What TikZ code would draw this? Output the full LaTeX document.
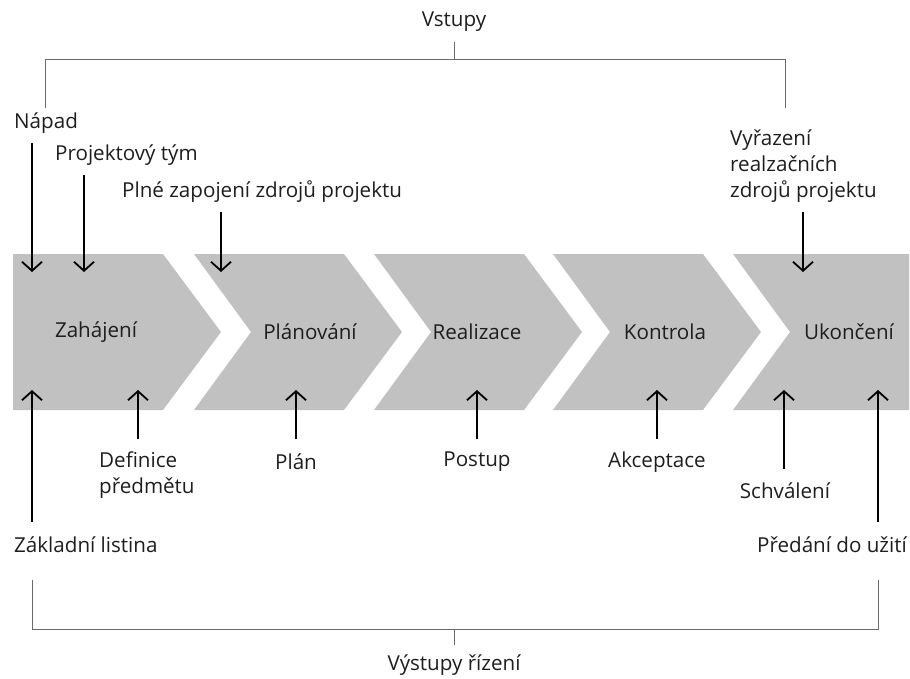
\documentclass[tikz,border=0pt]{standalone}
\usepackage{fontspec}
\setmainfont{Open Sans}
\usetikzlibrary{arrows.meta}
\definecolor{chev}{HTML}{C1C1C1}
\definecolor{txt}{HTML}{1E1E1E}
\definecolor{brk}{HTML}{6A6A6A}
\tikzset{
  lbl/.style={font=\fontsize{20.6}{26}\selectfont, text=txt, inner sep=0pt, align=left},
  arr/.style={line width=2pt, -{Straight Barb[length=9pt,width=20pt,line width=1.8pt]}},
  brack/.style={draw=brk, line width=1pt},
  chevron/.style={fill=chev, draw=none}
}
\begin{document}
\begin{tikzpicture}[x=1pt,y=-1pt]
\useasboundingbox (0,0) rectangle (910,679);
% chevrons
\fill[chevron] (13,254) -- (163,254) -- (221,332) -- (163,410) -- (13,410) -- cycle;
\foreach \L in {194,374,553}{
  \fill[chevron] (\L,254) -- (\L+150,254) -- (\L+208,332) -- (\L+150,410) -- (\L,410) -- (\L+57,332) -- cycle;
}
\fill[chevron] (733,254) -- (909,254) -- (909,410) -- (733,410) -- (790,332) -- cycle;
% phase labels
\node[lbl] (p1) at (96,332) {Zahájení};
\node[lbl] (p2) at (310,332) {Plánování};
\node[lbl] (p3) at (477,332) {Realizace};
\node[lbl] (p4) at (665,332) {Kontrola};
\node[lbl] (p5) at (849,332) {Ukončení};
% top bracket
\node[lbl] (vstupy) at (454,22) {Vstupy};
\coordinate (tl) at (45,108);
\coordinate (tr) at (785,108);
\coordinate (tc) at (454,42);
\draw[brack] (tl) |- (785,60) -- (tr);
\draw[brack] (tc) -- (454,60);
% inputs
\node[lbl, anchor=west] (napad) at (14,123) {Nápad};
\node[lbl, anchor=west] (tym) at (55,155) {Projektový tým};
\node[lbl, anchor=west] (zdroje) at (122,192) {Plné zapojení zdrojů projektu};
\node[lbl, anchor=west] (vyraz) at (730,166) {Vyřazení\\realzačních\\zdrojů projektu};
\coordinate (a1s) at (32,143);  \coordinate (a1e) at (32,272);
\coordinate (a2s) at (84,175);  \coordinate (a2e) at (84,272);
\coordinate (a3s) at (221,212); \coordinate (a3e) at (221,272);
\coordinate (a4s) at (803,212); \coordinate (a4e) at (803,272);
\draw[arr] (a1s) -- (a1e);
\draw[arr] (a2s) -- (a2e);
\draw[arr] (a3s) -- (a3e);
\draw[arr] (a4s) -- (a4e);
% outputs
\node[lbl, anchor=west] (zakl) at (14,545) {Základní listina};
\node[lbl, anchor=west] (defin) at (99,475) {Definice\\předmětu};
\node[lbl] (plan) at (296,462) {Plán};
\node[lbl] (postup) at (477,462) {Postup};
\node[lbl] (akcept) at (657,462) {Akceptace};
\node[lbl] (schval) at (785,491) {Schválení};
\node[lbl] (predani) at (832,545) {Předání do užití};
\coordinate (b1s) at (32,522);  \coordinate (b1e) at (32,390);
\coordinate (b2s) at (138,439); \coordinate (b2e) at (138,390);
\coordinate (b3s) at (296,439); \coordinate (b3e) at (296,390);
\coordinate (b4s) at (477,439); \coordinate (b4e) at (477,390);
\coordinate (b5s) at (657,439); \coordinate (b5e) at (657,390);
\coordinate (b6s) at (784,469); \coordinate (b6e) at (784,390);
\coordinate (b7s) at (878,522); \coordinate (b7e) at (878,390);
\foreach \i in {1,...,7}{ \draw[arr] (b\i s) -- (b\i e); }
% bottom bracket
\coordinate (bl) at (32,580);
\coordinate (br) at (878,580);
\draw[brack] (bl) |- (878,629) -- (br);
\draw[brack] (454,629) -- (454,645);
\node[lbl] (vystupy) at (454,665) {Výstupy řízení};
\end{tikzpicture}
\end{document}
